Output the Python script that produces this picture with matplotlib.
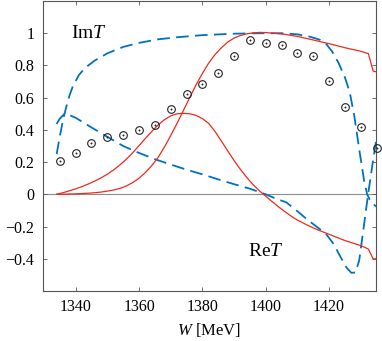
import matplotlib
matplotlib.use("Agg")
import matplotlib.pyplot as plt
from matplotlib.ticker import FuncFormatter

plt.rcParams['font.family'] = ['Liberation Serif', 'DejaVu Serif']
plt.rcParams['mathtext.fontset'] = 'custom'
plt.rcParams['mathtext.rm'] = 'Liberation Serif'
plt.rcParams['mathtext.it'] = 'Liberation Serif:italic'

# ---- data ----
W_red_im = [1334, 1336, 1338, 1340, 1342, 1344, 1346, 1348, 1350, 1352, 1354, 1356, 1358, 1360,
            1362, 1364, 1366, 1368, 1370, 1372, 1374, 1376, 1378, 1380, 1382, 1384, 1386, 1388,
            1390, 1392, 1394, 1396, 1398, 1400, 1403, 1406, 1410, 1415, 1420, 1425, 1430,
            1432.4, 1433.9, 1435]
red_im = [0.0, 0.001, 0.002, 0.003, 0.005, 0.007, 0.010, 0.014, 0.020, 0.027, 0.037, 0.052, 0.073,
          0.100, 0.135, 0.178, 0.228, 0.293, 0.365, 0.440, 0.520, 0.600, 0.680, 0.750, 0.815, 0.868,
          0.910, 0.945, 0.970, 0.986, 0.996, 1.002, 1.005, 1.004, 0.999, 0.993, 0.980, 0.958,
          0.935, 0.910, 0.888, 0.873, 0.765, 0.760]

W_red_re = [1334, 1336, 1338, 1340, 1342, 1344, 1346, 1348, 1350, 1352, 1354, 1356, 1358, 1360,
            1362, 1364, 1366, 1368, 1370, 1372, 1374, 1376, 1378, 1380, 1382, 1384, 1386, 1388,
            1390, 1392, 1394, 1396, 1398, 1400, 1402, 1404, 1406, 1408, 1410, 1413, 1416, 1420,
            1425, 1430, 1432.4, 1433.9, 1435]
red_re = [0.0, 0.010, 0.022, 0.034, 0.048, 0.064, 0.082, 0.102, 0.125, 0.152, 0.183, 0.218, 0.258,
          0.302, 0.347, 0.390, 0.430, 0.463, 0.487, 0.500, 0.503, 0.500, 0.490, 0.470, 0.440,
          0.390, 0.330, 0.270, 0.210, 0.155, 0.105, 0.060, 0.022, -0.012, -0.045, -0.077, -0.107,
          -0.135, -0.160, -0.190, -0.217, -0.248, -0.287, -0.318, -0.340, -0.400, -0.400]

W_blue_im = [1334, 1335, 1336, 1337, 1338, 1339, 1341, 1343, 1346, 1350, 1355, 1360, 1366, 1372,
             1380, 1390, 1398, 1405, 1410, 1414, 1417, 1419, 1421, 1423, 1425, 1426.5, 1428, 1429.5,
             1431, 1432, 1433, 1434.5, 1436]
blue_im = [0.25, 0.36, 0.46, 0.54, 0.61, 0.665, 0.74, 0.785, 0.83, 0.875, 0.915, 0.94, 0.962, 0.975,
           0.988, 0.997, 1.0, 1.0, 0.993, 0.978, 0.96, 0.935, 0.885, 0.815, 0.725, 0.635, 0.48, 0.28,
           0.09, 0.0, -0.04, -0.07, -0.09]

W_blue_re = [1334, 1335, 1336.5, 1338, 1340, 1345, 1350, 1355, 1360, 1365, 1370, 1375, 1380, 1385,
             1390, 1395, 1400, 1403, 1406.5, 1410, 1413, 1416, 1419, 1421.5, 1423.5, 1425.5, 1427,
             1428.3, 1429.5, 1430.7, 1432.3, 1433.8, 1435.2, 1436]
blue_re = [0.437, 0.47, 0.50, 0.492, 0.475, 0.415, 0.357, 0.30, 0.257, 0.218, 0.185, 0.153, 0.124,
           0.093, 0.063, 0.035, 0.0, -0.025, -0.05, -0.105, -0.155, -0.2, -0.245, -0.31, -0.385,
           -0.455, -0.487, -0.485, -0.41, -0.236, 0.0, 0.2, 0.38, 0.45]

W_pts = [1335, 1340, 1345, 1350, 1355, 1360, 1365, 1370, 1375, 1380, 1385, 1390, 1395, 1400,
         1405, 1410, 1415, 1420, 1425, 1430, 1435]
pts = [0.205, 0.257, 0.319, 0.353, 0.368, 0.399, 0.429, 0.528, 0.622, 0.686, 0.750, 0.861, 0.957,
       0.941, 0.926, 0.877, 0.861, 0.702, 0.542, 0.415, 0.288]

xticks = [1340, 1360, 1380, 1400, 1420]
yticks = [-0.4, -0.2, 0, 0.2, 0.4, 0.6, 0.8, 1]

# ---- figure ----
fig = plt.figure(figsize=(3.82, 3.41), dpi=100)
ax = fig.add_axes([0.1118, 0.1466, 0.9843 - 0.1118, 0.9971 - 0.1466])

blue = '#0072BD'
red = '#F0281E'

ax.axhline(0, color='#8c8c8c', lw=0.8, zorder=1)
ax.plot(W_red_im, red_im, color=red, lw=0.9, zorder=3)
ax.plot(W_red_re, red_re, color=red, lw=0.9, zorder=3)
ax.plot(W_blue_im, blue_im, color=blue, lw=1.3, dashes=(7, 3.5), zorder=2)
ax.plot(W_blue_re, blue_re, color=blue, lw=1.3, dashes=(7, 3.5), zorder=2)
ax.plot(W_pts, pts, ls='none', marker='o', ms=5.5, mfc='none', mec='#222222', mew=0.8,
        clip_on=False, zorder=4)
ax.plot(W_pts, pts, ls='none', marker='o', ms=1.0, mfc='#222222', mec='#222222', mew=0.3,
        clip_on=False, zorder=4)

ax.set_xlim(1329.6, 1434.8)
ax.set_ylim(-0.6, 1.2)
ax.set_xticks(xticks)
ax.set_yticks(yticks)
ax.yaxis.set_major_formatter(FuncFormatter(lambda v, p: ('%g' % v).replace('-', '\u2212')))
ax.tick_params(direction='in', length=3, width=0.6, color='#555555', top=True, right=True,
               labelsize=11.5, pad=6)
for s in ax.spines.values():
    s.set_color('#555555')
    s.set_linewidth(0.8)

ax.text(1338.5, 1.0, r'Im$T$', fontsize=14, va='center', ha='left')
ax.text(1394.3, -0.355, r'Re$T$', fontsize=14, va='center', ha='left')
ax.set_xlabel(r'$W$ [MeV]', fontsize=12, labelpad=4)

fig.savefig('out.png', dpi=100)
